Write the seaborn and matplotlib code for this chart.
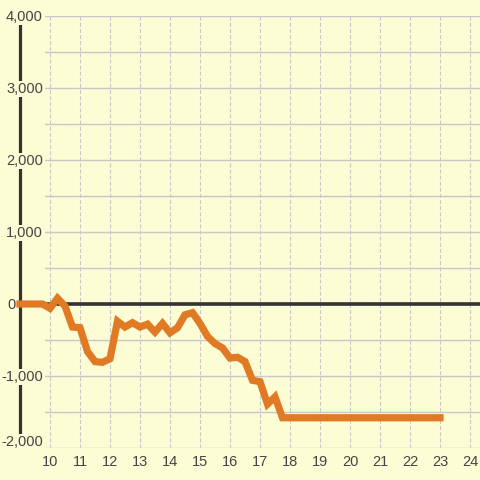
import matplotlib
matplotlib.use("Agg")
import matplotlib.pyplot as plt
import matplotlib.transforms as mtransforms
import numpy as np
import pandas as pd
import seaborn as sns

# hour of day, cumulative value
HOURS = [9.0, 9.25, 9.5, 9.75, 10.0, 10.25, 10.5, 10.75, 11.0, 11.25, 11.5, 11.75,
         12.0, 12.25, 12.5, 12.75, 13.0, 13.25, 13.5, 13.75, 14.0, 14.25, 14.5, 14.75,
         15.0, 15.25, 15.5, 15.75, 16.0, 16.25, 16.5, 16.75, 17.0, 17.25, 17.5, 17.75,
         18.0, 19.0, 20.0, 21.0, 22.0, 23.0]
VALUES = [0, 0, 0, 0, -60, 80, -30, -320, -330, -660, -800, -810,
          -760, -240, -320, -260, -320, -280, -390, -270, -400, -330, -150, -120,
          -270, -450, -550, -610, -750, -740, -800, -1060, -1080, -1390, -1290, -1580,
          -1580, -1580, -1580, -1580, -1580, -1580]
X_TICKS = list(range(10, 25))
Y_LABEL_TICKS = [-2000, -1000, 0, 1000, 2000, 3000, 4000]
Y_GRID_TICKS = [-2000, -1500, -1000, -500, 0, 500, 1000, 1500, 2000, 2500, 3000, 3500, 4000]

BG = "#fcfcd5"
TEXT = "#444444"
GRID = "#c8c8c8"
ORANGE = "#e07a25"
DARK = "#333333"

df = pd.DataFrame({"hour": HOURS, "value": VALUES})

plt.rcParams["font.family"] = ["Liberation Sans", "DejaVu Sans"]

W, H = 480, 480
fig = plt.figure(figsize=(4.8, 4.8), dpi=100, facecolor=BG)
left, right, top, bottom = 45, 480, 16, 448
ax = fig.add_axes([left / W, (H - bottom) / H, (right - left) / W, (bottom - top) / H])
ax.set_facecolor(BG)
for s in ax.spines.values():
    s.set_visible(False)

px_per_hour = 30.0
px_per_unit = (bottom - top) / 6000
ax.set_xlim(10 - (50 - left) / px_per_hour, 10 + (right - 50) / px_per_hour)
ax.set_ylim(-2000, 4000)

ax.set_axisbelow(True)
ax.set_xticks(X_TICKS)
ax.set_yticks(Y_GRID_TICKS)
ax.set_yticklabels([])
ax.tick_params(axis="both", length=0)
ax.tick_params(axis="x", pad=5, labelsize=10.5, labelcolor=TEXT)
ax.grid(axis="y", color=GRID, linewidth=1.0, linestyle="-")
ax.grid(axis="x", color=GRID, linewidth=0.8, linestyle=(0, (3.6, 1.9)))

# left axis line, sitting left of the grid area
spine_x = 9.0
ax.axvline(spine_x, ymin=(-1850 + 2000) / 6000, ymax=(3890 + 2000) / 6000,
           color=DARK, linewidth=2.3, clip_on=False, zorder=0.4)

# y labels with background boxes covering the axis line
trans = mtransforms.blended_transform_factory(ax.transData, ax.transData)
for v in Y_LABEL_TICKS:
    lab = f"{v:,}"
    xpos = 10 - (50 - 43) / px_per_hour if v != 0 else spine_x - 4 / px_per_hour
    ypos = v + 6 / px_per_unit if v == -2000 else v - 1 / px_per_unit
    ax.text(xpos, ypos, lab, ha="right", va="center", fontsize=10.5, color=TEXT,
            transform=trans, clip_on=False, zorder=0.6,
            bbox=dict(facecolor=BG, edgecolor="none", pad=1.0))

# zero line from the axis line to the right edge
ax.axhline(0, xmin=-(left - 20) / (right - left), xmax=1, color=DARK,
           linewidth=2.6, clip_on=False, zorder=2)

sns.lineplot(data=df, x="hour", y="value", ax=ax, color=ORANGE, linewidth=5.2,
             solid_capstyle="projecting", solid_joinstyle="miter", clip_on=False, zorder=3)
ax.set_xlabel("")
ax.set_ylabel("")

fig.savefig("out.png", dpi=100, facecolor=BG)
